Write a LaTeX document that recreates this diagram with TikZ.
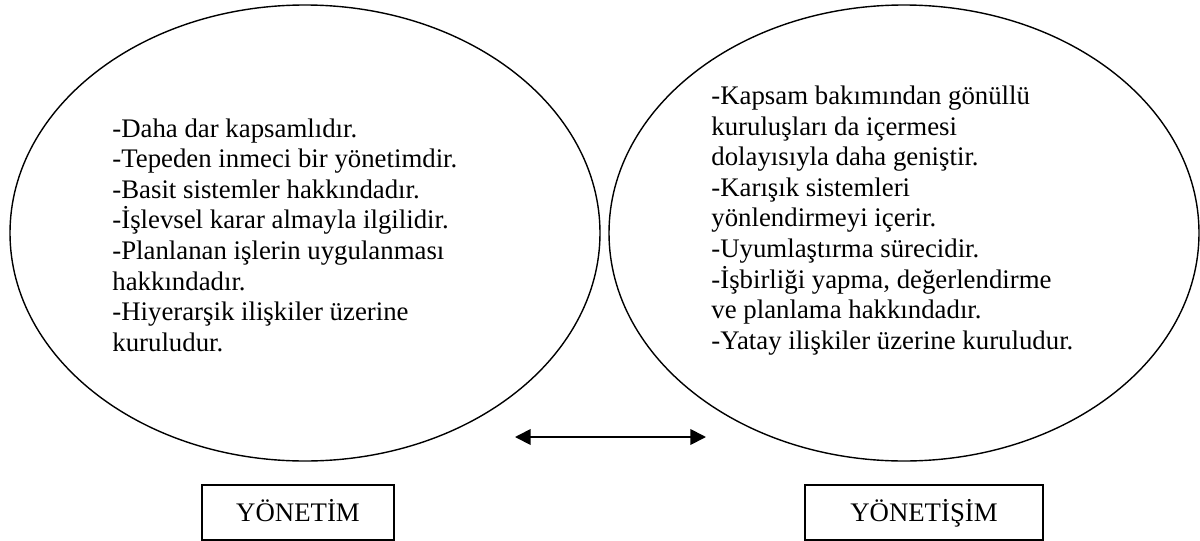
\documentclass[tikz,border=0pt]{standalone}
\usepackage{fontspec}
\setmainfont{Liberation Serif}
\usetikzlibrary{shapes.geometric}
\usetikzlibrary{arrows.meta}
\tikzstyle{bubble}=[draw, ellipse, line width=0.7pt, inner sep=0pt, minimum width=295pt, minimum height=228pt]
\tikzstyle{bubbletext}=[anchor=north west, align=left, inner sep=0pt, font=\fontsize{13.4}{15.3}\selectfont]
\tikzstyle{namebox}=[draw, line width=0.6pt, inner sep=0pt, minimum height=27.5pt, text height=9.6pt, text depth=0.4pt, font=\fontsize{13.4}{15.3}\selectfont]
\tikzstyle{twoway}=[{Triangle[length=7.8pt,width=7.8pt]}-{Triangle[length=7.8pt,width=7.8pt]}, line width=0.9pt]

\begin{document}
\begin{tikzpicture}[x=0.5pt, y=-0.5pt]
  \useasboundingbox (0,0) rectangle (1200,541);
  % the two fields
  \node[bubble] (yonetim) at (305,233) {};
  \node[bubble] (yonetisim) at (904,233) {};
  \node[bubbletext] (yonetimtext) at (112,118) {-Daha dar kapsamlıdır.\\
    -Tepeden inmeci bir yönetimdir.\\
    -Basit sistemler hakkındadır.\\
    -İşlevsel karar almayla ilgilidir.\\
    -Planlanan işlerin uygulanması\\
    hakkındadır.\\
    -Hiyerarşik ilişkiler üzerine\\
    kuruludur.};
  \node[bubbletext] (yonetisimtext) at (711,85.4) {-Kapsam bakımından gönüllü\\
    kuruluşları da içermesi\\
    dolayısıyla daha geniştir.\\
    -Karışık sistemleri\\
    yönlendirmeyi içerir.\\
    -Uyumlaştırma sürecidir.\\
    -İşbirliği yapma, değerlendirme\\
    ve planlama hakkındadır.\\
    -Yatay ilişkiler üzerine kuruludur.};
  % arrow between them
  \coordinate (arrowleft) at (515,437);
  \coordinate (arrowright) at (706,437);
  \draw[twoway] (arrowleft) -- (arrowright);
  % names
  \node[namebox, minimum width=96pt] (yonetimbox) at (298,512.5) {YÖNETİM};
  \node[namebox, minimum width=119pt] (yonetisimbox) at (924,512.5) {YÖNETİŞİM};
\end{tikzpicture}
\end{document}
